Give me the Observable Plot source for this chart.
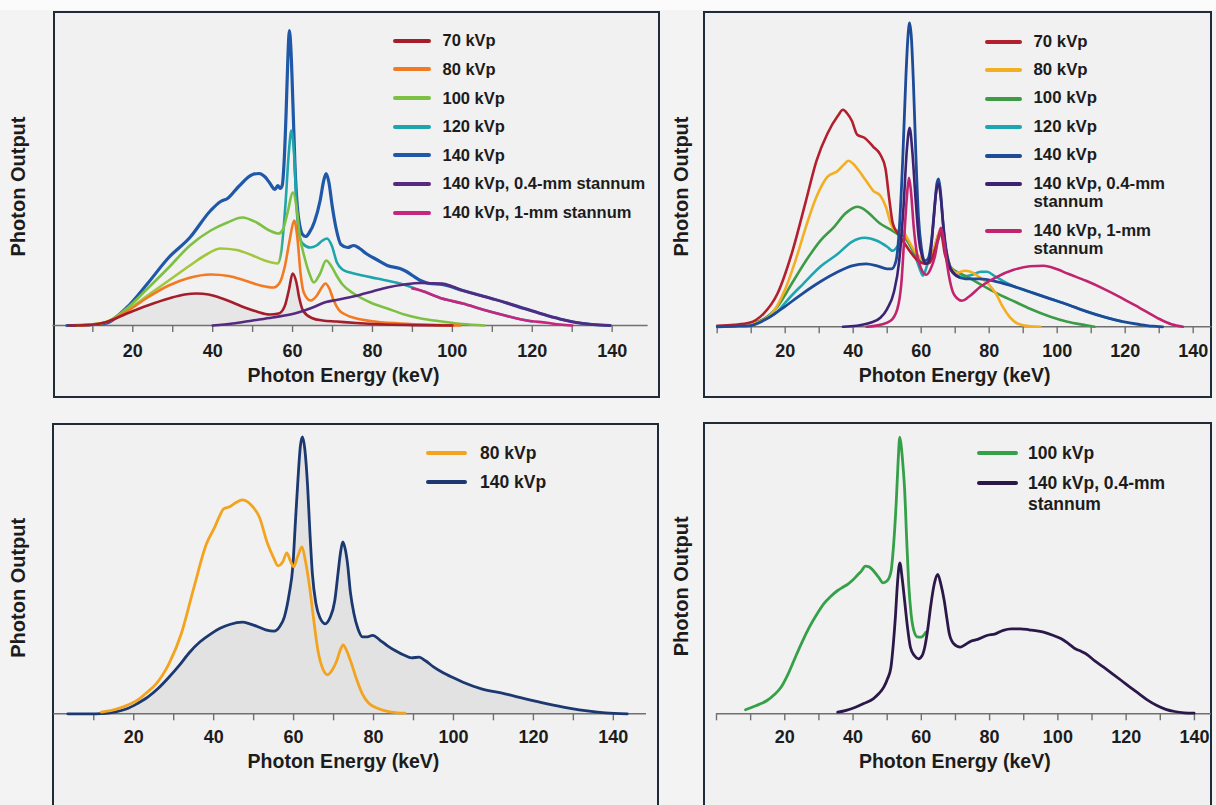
<!DOCTYPE html>
<html>
<head>
<meta charset="utf-8">
<script src="https://cdn.jsdelivr.net/npm/d3@7"></script>
<script src="https://cdn.jsdelivr.net/npm/@observablehq/plot@0.6"></script>
<style>
  html, body { margin: 0; padding: 0; }
  body { width: 1216px; height: 805px; overflow: hidden; position: relative;
         background: #f3f3f3; font-family: "Liberation Sans", Arial, Helvetica, sans-serif; }
  .topstrip { position: absolute; left: 0; top: 0; width: 1216px; height: 10px; background: #fbfbfb; }
  .frame { position: absolute; box-sizing: border-box; border: 2.5px solid #1f2b38; background: #f1f1f1; }
  .plot { position: absolute; }
  .legend { position: absolute; font-weight: bold; color: #1c1c1c; }
</style>
</head>
<body>
<div class="topstrip"></div>
<script>
// ---------------- DATA ----------------
const energyTicks = [0, 10, 20, 30, 40, 50, 60, 70, 80, 90, 100, 110, 120, 130, 140];
const labelTicks = [20, 40, 60, 80, 100, 120, 140];
const xTitle = "Photon Energy (keV)";
const yTitle = "Photon Output";
const topNames = ["70 kVp", "80 kVp", "100 kVp", "120 kVp", "140 kVp", "140 kVp, 0.4-mm stannum", "140 kVp, 1-mm stannum"];
const bottomLeftNames = ["80 kVp", "140 kVp"];
const bottomRightNames = ["100 kVp", "140 kVp, 0.4-mm stannum"];

// Top-left panel: [keV, relative photon output]
const tl70 = [[4,0],[9,0.5],[13,3],[18.5,12],[23.7,20],[29,27],[33,31],[36,32],[39,31],[42,27.5],[45,23],[48,18],[51,14],[54.2,11],[56.5,12],[58,19],[59.1,36],[60,52],[60.9,44],[61.7,27],[62.6,15],[64.8,7.5],[67.5,5],[71,4],[76,2.5],[82,1.2],[90,0.4],[100,0]];
const tl80 = [[7,0],[13,3],[18.5,14],[23.7,28],[29,40],[34,47.5],[39.5,51],[44,49.5],[48,45],[52,40],[55.2,38],[56.8,43],[58,58],[59.3,86],[60.4,105],[61.2,88],[62,52],[62.8,33],[64.5,25],[66,29.5],[67.3,38],[68.2,42],[69.2,37],[70.2,26],[71.5,16],[73.2,11],[76,7],[79.5,4.5],[86.9,2],[95,0.6],[102,0]];
const tl100 = [[6,0],[13,3],[18.5,17],[23.7,37],[29,58],[34.3,80],[39.5,95],[43.7,103],[47.4,108],[51,103],[54.2,95],[56.5,92],[57.6,96],[58.7,112],[60.1,133],[61,118],[61.8,90],[63,68],[64.2,52],[65.3,43],[66.9,52],[68.4,65],[69.6,60],[71,50],[72.5,41],[75.3,32],[79.5,23],[83.7,17],[88,11],[92.1,7],[97.4,4],[102.6,1.5],[108,0]];
const tl120 = [[6,0],[13,3],[18.5,15],[23.7,30],[29,45],[34.3,60],[38,70],[42,77],[46,75.5],[50,70],[53,65],[56.3,62],[57.2,75],[58.2,120],[59.1,175],[59.7,195],[60.4,170],[61.1,112],[61.8,88],[62.5,82],[64.4,78],[66,80],[67.5,85],[68.6,87],[69.8,80],[71.1,63],[72.5,56],[74.4,53],[77.5,50],[81.1,47],[86.9,42],[92.1,35],[97.4,27],[102.6,22],[108,15.5],[113.2,10],[118,5.5],[120,4]];
const tl140 = [[3.5,0],[8,0.5],[13,2],[18.5,18],[23.7,42],[29,68],[34.3,88],[39.5,115],[42,124],[43.7,127],[46.5,139],[50,151],[51.6,152],[53,149],[54.2,143],[55.6,136],[56.3,140],[56.9,137],[57.4,140],[57.9,165],[58.4,215],[58.8,265],[59.2,295],[59.6,275],[60.1,220],[60.6,160],[61.2,118],[61.8,100],[62.5,91],[63.3,89],[64.2,93],[65.5,104],[66.9,125],[67.8,145],[68.4,152],[69.1,143],[69.9,120],[70.9,97],[72.1,81],[73.8,78],[75.3,80],[76.8,77],[78.4,72],[81,66],[83.7,60],[86.9,57],[88.5,54],[90,50],[92,45],[94.2,42],[97.4,41],[102.6,35],[108,29],[113.2,23],[118,17],[123.7,10],[128,5.5],[131,3],[135,1],[139.5,0]];
const tl04 = [[40,0],[45,2],[50,5],[55,8],[60.5,12],[64.7,17.5],[68.4,23.5],[71,25.5],[76.3,30],[80,34],[83.7,38],[88,41],[92.1,42.5],[97.4,42],[100,39],[102.6,35],[108,29],[113.2,23],[118,17],[123.7,10],[128,5.5],[131,3],[135,1],[139.5,0]];
const tl1mm = [[90,37],[92.1,35],[97.4,27],[102.6,22],[108,15.5],[113.2,10],[118,5.5],[123.7,2.7],[127,1],[130,0]];

// Top-right panel
const tr70 = [[0,1],[5,2],[9.4,4],[13.6,13],[17.7,33],[21.9,73],[26.1,126],[29.2,166],[32.4,193],[35.5,211],[37,217],[38.3,213],[39.6,206],[41.2,192],[43.3,189],[45.9,180],[48,172],[49.5,158],[50.6,128],[51.6,104],[53,94],[55,84],[57,74],[59,66],[61,63],[62.5,64],[64.3,80],[65.7,95],[67,72],[68.5,58],[70,52]];
const tr80 = [[0,0],[6,1],[12.5,5],[16.7,16],[19.8,36],[23,66],[26.1,100],[29.2,130],[32.4,150],[35.5,156],[37.5,163],[38.6,166],[40,163],[41.7,156],[43.8,146],[45.9,136],[48,131],[49.6,120],[51.1,103],[52.7,96],[54.2,97],[56,88],[58,76],[60,68],[61.5,65],[63,70],[64.8,90],[65.9,99],[67,82],[68.6,60],[70.5,54],[72.8,56],[74.5,55],[77.4,49],[80,42],[82,33],[84,20],[86,10],[88.5,3],[92,0.5],[95,0]];
const tr100 = [[0,0],[6,1],[12,5],[17.7,20],[21.9,43],[26.1,66],[30.3,86],[34.4,100],[37.6,113],[39.5,118],[41.2,120],[43,118],[44.8,113],[48,103],[50.6,98],[51.6,96],[53,93],[55,90],[57,80],[59,69],[61,64],[63,68],[64.8,85],[65.9,94],[67,78],[68.6,60],[70.5,55],[73.5,50],[77.2,43],[82,34],[87.6,25],[92,18],[98,10],[103,5],[108.5,1.5],[111,0]];
const tr120 = [[0,0],[6,1],[12,5],[17.7,15],[21,28],[25.3,43],[30.3,60],[35.5,73],[39.6,85],[43.3,89],[47,86],[50,80],[51.6,76],[53.2,81],[55.2,88],[56.8,81],[58.3,70],[59.9,55],[60.5,51],[61.9,63],[63.5,75],[65.8,96],[67.2,74],[69,56],[72,50],[75,52],[77.5,55],[79.4,55],[81.5,51],[84,46],[87.6,40],[92.8,34],[98,28],[103.2,22],[108.5,15.5],[113.7,10],[118.9,5.5]];
const tr140 = [[0,0],[5,0.5],[9.4,1],[14.6,8],[19.8,20],[25,33],[30.3,45],[35.5,55],[39.6,61],[43.8,63],[47,61],[50,58],[51.3,58],[52.6,66],[53.6,100],[54.6,170],[55.5,250],[56.1,290],[56.6,304],[57.1,290],[57.7,245],[58.4,175],[59.2,110],[60.1,78],[61,66],[62,68],[63,85],[64.1,126],[64.6,143],[65.1,148],[65.6,138],[66.4,105],[67.3,78],[68.3,62],[70.3,51],[73,48],[77.2,48],[82.4,45],[87.6,40],[92.8,34],[98,28],[103.2,22],[108.5,15.5],[113.7,10],[118.9,5.5],[124.2,2.3],[128,0.6],[131,0]];
const tr04 = [[37,0],[41,1],[45,4],[48,9],[50,18],[52,35],[53.5,65],[54.8,120],[55.8,178],[56.6,199],[57.4,175],[58.3,130],[59.3,88],[60.3,70],[61.5,63],[62.5,68],[63.6,105],[64.4,135],[65.1,143],[65.8,128],[66.7,93],[68,63],[69.5,54],[71,50]];
const tr1mm = [[44,0],[48,2],[51,6],[53,18],[54.2,45],[55.2,100],[55.9,135],[56.4,149],[57,135],[57.8,100],[58.8,72],[60,58],[61.5,52],[62.8,58],[64,70],[65,88],[65.8,99],[66.6,88],[67.5,65],[68.5,45],[69.7,32],[72,26],[74,30],[77.4,40],[82.3,50],[87.2,57],[92,60.5],[96,61],[100,57.5],[103.2,53],[108.5,46],[113.7,38],[118.9,29],[124.2,19],[129.4,9],[133.6,2.5],[137,0]];

// Bottom-left panel
const bl80 = [[11.9,1.7],[14.5,3.5],[17.2,6.7],[19.5,10.5],[21.4,15],[23.5,22],[25.6,30],[28.8,50],[31.9,80],[35.1,127],[38.2,170],[40.3,187],[41.5,198],[42.5,205],[44,207],[45.5,211],[47.2,214],[48.5,212],[49.8,207],[51.4,197],[53.5,170],[55,156],[56.1,148],[57.3,152],[58.3,161],[59.1,154],[60,147],[61,157],[62.1,167],[63,152],[64,127],[65,95],[66.1,63],[67.3,45],[68.5,39],[69.7,44],[70.8,53],[71.7,64],[72.4,69],[73.3,63],[74.5,50],[75.8,34],[77.2,20],[78.7,11],[80.3,6.7],[82.5,3.5],[84.5,1.7],[87.9,0.6]];
const bl140 = [[3.5,0],[8,0],[13,0.5],[15.5,2],[18.3,5],[20.8,10],[23.5,16.6],[26,25],[28.8,36.6],[31.5,49],[34,61.6],[36.6,72],[39.3,80],[41.6,85.5],[44,89.3],[47.2,91.6],[49,90],[50.9,87.3],[53,84],[55.1,82.6],[56.5,87],[57.7,97],[58.9,120],[59.8,147],[60.5,195],[61.1,235],[61.7,268],[62.2,277],[62.8,265],[63.5,228],[64.1,180],[64.7,140],[65.6,110],[66.6,96],[67.9,90],[69.1,96],[70.3,113],[71.1,140],[71.7,160],[72.3,172],[72.9,165],[73.5,150],[74.2,122],[75.1,100],[76.1,85],[77.2,77],[78.5,77],[79.8,78.5],[81.5,74],[83.5,68],[85.5,63],[87.7,58.5],[89.5,56],[91.4,56.6],[93,53],[95,47],[97.2,41.6],[100,36],[102.4,31.6],[107,25],[112.9,20],[118,15],[123.5,10],[128.5,6],[134,2.6],[138,1],[143.5,0]];

// Bottom-right panel
const br100 = [[8.5,4],[11.5,8],[14.8,13.3],[16.9,19],[18.9,26.6],[21,40],[23.1,56.6],[25.1,72],[27.2,86.6],[29.3,99],[31.4,110],[33.5,117.5],[35.5,123.3],[37,126.5],[38.6,130],[40,134],[41.2,138.3],[42.5,143],[43.6,147.6],[44.7,147],[45.9,143.3],[47.4,137],[48.8,131],[50,133],[51.1,142],[51.9,170],[52.7,215],[53.2,252],[53.7,276.6],[54.2,265],[54.7,245],[55.1,225],[55.7,175],[56.3,130],[57,100],[57.8,83.3],[58.8,77],[59.9,76.6],[61.3,81.6]];
const br04 = [[35.5,1.6],[38,3.5],[40.7,6.6],[43.3,10.5],[45.9,15],[47.5,20],[49,26.6],[50.1,35],[51.1,46.6],[51.8,70],[52.4,96.6],[53,130],[53.7,151],[54.4,135],[55.1,113.3],[55.9,88],[56.8,66.6],[58,58],[59.2,55],[60.2,58],[61,66.6],[61.9,85],[62.7,106.6],[63.8,130],[64.8,139.3],[65.7,130],[66.7,113.3],[67.5,95],[68.2,80],[69.5,70],[71.4,66.6],[72.8,69],[74.5,72.6],[76.5,74.5],[79.2,78.3],[81.7,80],[84,83.5],[86.4,85],[89,85],[91.6,84],[95.8,81.6],[98.5,78.5],[101,75],[103,70.5],[105.1,65],[106.8,62.5],[108.2,60],[110.8,53],[113.4,46.6],[116,40],[118.6,33.3],[121.2,26.5],[123.8,20],[126.4,13.5],[129,8.3],[131.6,4.5],[134.2,2.3],[137,1],[139.9,0.6]];

// ---------------- STYLE / LAYOUT ----------------
const FONT = '"Liberation Sans", Arial, Helvetica, sans-serif';
const ink = "#1c1c1c";
const axisGray = "#707070";

const panels = [
  {
    box: {left: 0, top: 0, width: 660, height: 400},
    frame: {left: 52.5, top: 10.5, width: 607, height: 387},
    xDomain: [0, 149], ml: 52.4, mr: 12.4, mt: 25, mb: 75, yMax: 300,
    ticks: energyTicks.filter(d => d > 0), tickPadding: 11.4,
    xTitleDx: -7, xTitleDy: 50, yTitleDx: -34.4, yTitleDy: 11,
    area: {data: tl70, fill: "#e6e6e6"},
    gradient: {id: "tl120grad", from: 56.4, to: 57.6, c0: "#a2c73c", c1: "#1ea5ab"},
    series: [
      {data: tl140, color: "#1f58a8", w: 3.2, order: 4},
      {data: tl120, color: "#1ea5ab", stroke: "url(#tl120grad)", w: 2.6, order: 3},
      {data: tl100, color: "#7dc142", w: 2.6, order: 2},
      {data: tl80, color: "#f27a22", w: 2.6, order: 1},
      {data: tl70, color: "#a51d2b", w: 2.6, order: 0},
      {data: tl04, color: "#55297f", w: 2.6, order: 5},
      {data: tl1mm, color: "#c62580", w: 2.6, order: 6}
    ],
    legend: {names: topNames, left: 393, top: 32.2, sw: 38, pad: 11.5, fs: 16.5, lh: 17, gap: 11.67, tw: null}
  },
  {
    box: {left: 660, top: 0, width: 556, height: 400},
    frame: {left: 703, top: 10.5, width: 509, height: 387},
    xDomain: [0, 145.5], ml: 56.7, mr: 4.6, mt: 16.3, mb: 73.7, yMax: 310,
    ticks: energyTicks, tickPadding: 10.1,
    xTitleDx: -10, xTitleDy: 48.7, yTitleDx: -35.7, yTitleDy: 14.7,
    area: null, gradient: null,
    series: [
      {data: tr120, color: "#1ca6b1", w: 2.6, order: 3},
      {data: tr100, color: "#3d9b46", w: 2.6, order: 2},
      {data: tr80, color: "#f4ae22", w: 2.6, order: 1},
      {data: tr70, color: "#b21f2d", w: 2.6, order: 0},
      {data: tr140, color: "#1d4b98", w: 2.8, order: 4},
      {data: tr04, color: "#3b2273", w: 2.6, order: 5},
      {data: tr1mm, color: "#c1246f", w: 2.6, order: 6}
    ],
    legend: {names: topNames, left: 984.5, top: 32.5, sw: 37, pad: 12, fs: 16.8, lh: 18.3, gap: 10.2, tw: 165}
  },
  {
    box: {left: 0, top: 400, width: 660, height: 405},
    frame: {left: 52, top: 422.5, width: 607, height: 500},
    xDomain: [0, 148.3], ml: 53.3, mr: 14, mt: 23.3, mb: 91.7, yMax: 290,
    ticks: energyTicks.filter(d => d > 0), tickPadding: 9.8,
    xTitleDx: -6.7, xTitleDy: 48.4, yTitleDx: -35.3, yTitleDy: 19,
    area: {data: bl140, fill: "#e2e2e2"}, gradient: null,
    series: [
      {data: bl140, color: "#1b3870", w: 2.8, order: 1},
      {data: bl80, color: "#f4a31e", w: 2.8, order: 0}
    ],
    legend: {names: bottomLeftNames, left: 426, top: 444.3, sw: 41, pad: 13, fs: 17.5, lh: 18, gap: 10.4, tw: null}
  },
  {
    box: {left: 660, top: 400, width: 556, height: 405},
    frame: {left: 702.5, top: 422, width: 509.5, height: 500},
    xDomain: [0, 145], ml: 56, mr: 5, mt: 23.3, mb: 91.7, yMax: 290,
    ticks: energyTicks, tickPadding: 9.8,
    xTitleDx: -9.2, xTitleDy: 48.4, yTitleDx: -35, yTitleDy: 17.5,
    area: null, gradient: null,
    series: [
      {data: br100, color: "#34a048", w: 2.8, order: 0},
      {data: br04, color: "#2b1849", w: 2.8, order: 1}
    ],
    legend: {names: bottomRightNames, left: 977.4, top: 442.5, sw: 41, pad: 9.6, fs: 17.5, lh: 21.7, gap: 8.3, tw: 170}
  }
];

function drawPanel(p) {
  const frame = document.createElement("div");
  frame.className = "frame";
  Object.assign(frame.style, {left: p.frame.left + "px", top: p.frame.top + "px",
    width: p.frame.width + "px", height: p.frame.height + "px"});
  document.body.appendChild(frame);

  const marks = [];
  if (p.area) {
    marks.push(Plot.areaY(p.area.data, {x: d => d[0], y: d => d[1], fill: p.area.fill, curve: "monotone-x"}));
  }
  marks.push(Plot.ruleY([0], {stroke: axisGray, strokeWidth: 1.6}));
  marks.push(Plot.axisX({
    ticks: p.ticks, tickSize: 7, tickPadding: p.tickPadding,
    tickFormat: d => labelTicks.includes(d) ? String(d) : "",
    stroke: axisGray, strokeWidth: 1.4, fill: ink,
    fontSize: 18, fontWeight: "bold", label: null
  }));
  p.series.forEach(s => {
    marks.push(Plot.line(s.data, {
      x: d => d[0], y: d => d[1], stroke: s.stroke || s.color, strokeWidth: s.w,
      curve: "monotone-x", strokeLinecap: "round", strokeLinejoin: "round"
    }));
  });
  marks.push(Plot.text([xTitle], {
    text: d => d, frameAnchor: "bottom", dx: p.xTitleDx, dy: p.xTitleDy,
    lineAnchor: "middle", textAnchor: "middle", fontSize: 19.5, fontWeight: "bold", fill: ink
  }));
  marks.push(Plot.text([yTitle], {
    text: d => d, frameAnchor: "left", dx: p.yTitleDx, dy: p.yTitleDy, rotate: -90,
    lineAnchor: "middle", textAnchor: "middle", fontSize: 20, fontWeight: "bold", fill: ink
  }));

  const svg = Plot.plot({
    width: p.box.width, height: p.box.height,
    marginLeft: p.ml, marginRight: p.mr, marginTop: p.mt, marginBottom: p.mb,
    x: {domain: p.xDomain},
    y: {domain: [0, p.yMax], axis: null},
    style: {background: "transparent", overflow: "visible", fontFamily: FONT},
    marks
  });

  if (p.gradient) {
    const g = p.gradient;
    const xs = svg.scale("x");
    const ns = "http://www.w3.org/2000/svg";
    const defs = document.createElementNS(ns, "defs");
    const lg = document.createElementNS(ns, "linearGradient");
    lg.setAttribute("id", g.id);
    lg.setAttribute("gradientUnits", "userSpaceOnUse");
    lg.setAttribute("x1", xs.apply(g.from)); lg.setAttribute("x2", xs.apply(g.to));
    lg.setAttribute("y1", 0); lg.setAttribute("y2", 0);
    [[0, g.c0], [1, g.c1]].forEach(([o, c]) => {
      const st = document.createElementNS(ns, "stop");
      st.setAttribute("offset", o); st.setAttribute("stop-color", c);
      lg.appendChild(st);
    });
    defs.appendChild(lg);
    svg.insertBefore(defs, svg.firstChild);
  }

  const wrap = document.createElement("div");
  wrap.className = "plot";
  Object.assign(wrap.style, {left: p.box.left + "px", top: p.box.top + "px"});
  wrap.appendChild(svg);
  document.body.appendChild(wrap);

  // legend
  const L = p.legend;
  const colorsByOrder = p.series.slice().sort((a, b) => a.order - b.order).map(s => s.color);
  const lgd = document.createElement("div");
  lgd.className = "legend";
  Object.assign(lgd.style, {left: L.left + "px", top: L.top + "px", fontSize: L.fs + "px",
    lineHeight: L.lh + "px", fontFamily: FONT});
  L.names.forEach((name, i) => {
    const row = document.createElement("div");
    Object.assign(row.style, {display: "flex", alignItems: "flex-start", marginBottom: L.gap + "px"});
    const sw = document.createElement("span");
    Object.assign(sw.style, {flex: "none", width: L.sw + "px", height: "4px", borderRadius: "2px",
      background: colorsByOrder[i], marginTop: (L.lh / 2 - 2) + "px", marginRight: L.pad + "px"});
    const t = document.createElement("span");
    t.textContent = name;
    if (L.tw) t.style.width = L.tw + "px"; else t.style.whiteSpace = "nowrap";
    row.appendChild(sw); row.appendChild(t);
    lgd.appendChild(row);
  });
  document.body.appendChild(lgd);
}

panels.forEach(drawPanel);
</script>
</body>
</html>
